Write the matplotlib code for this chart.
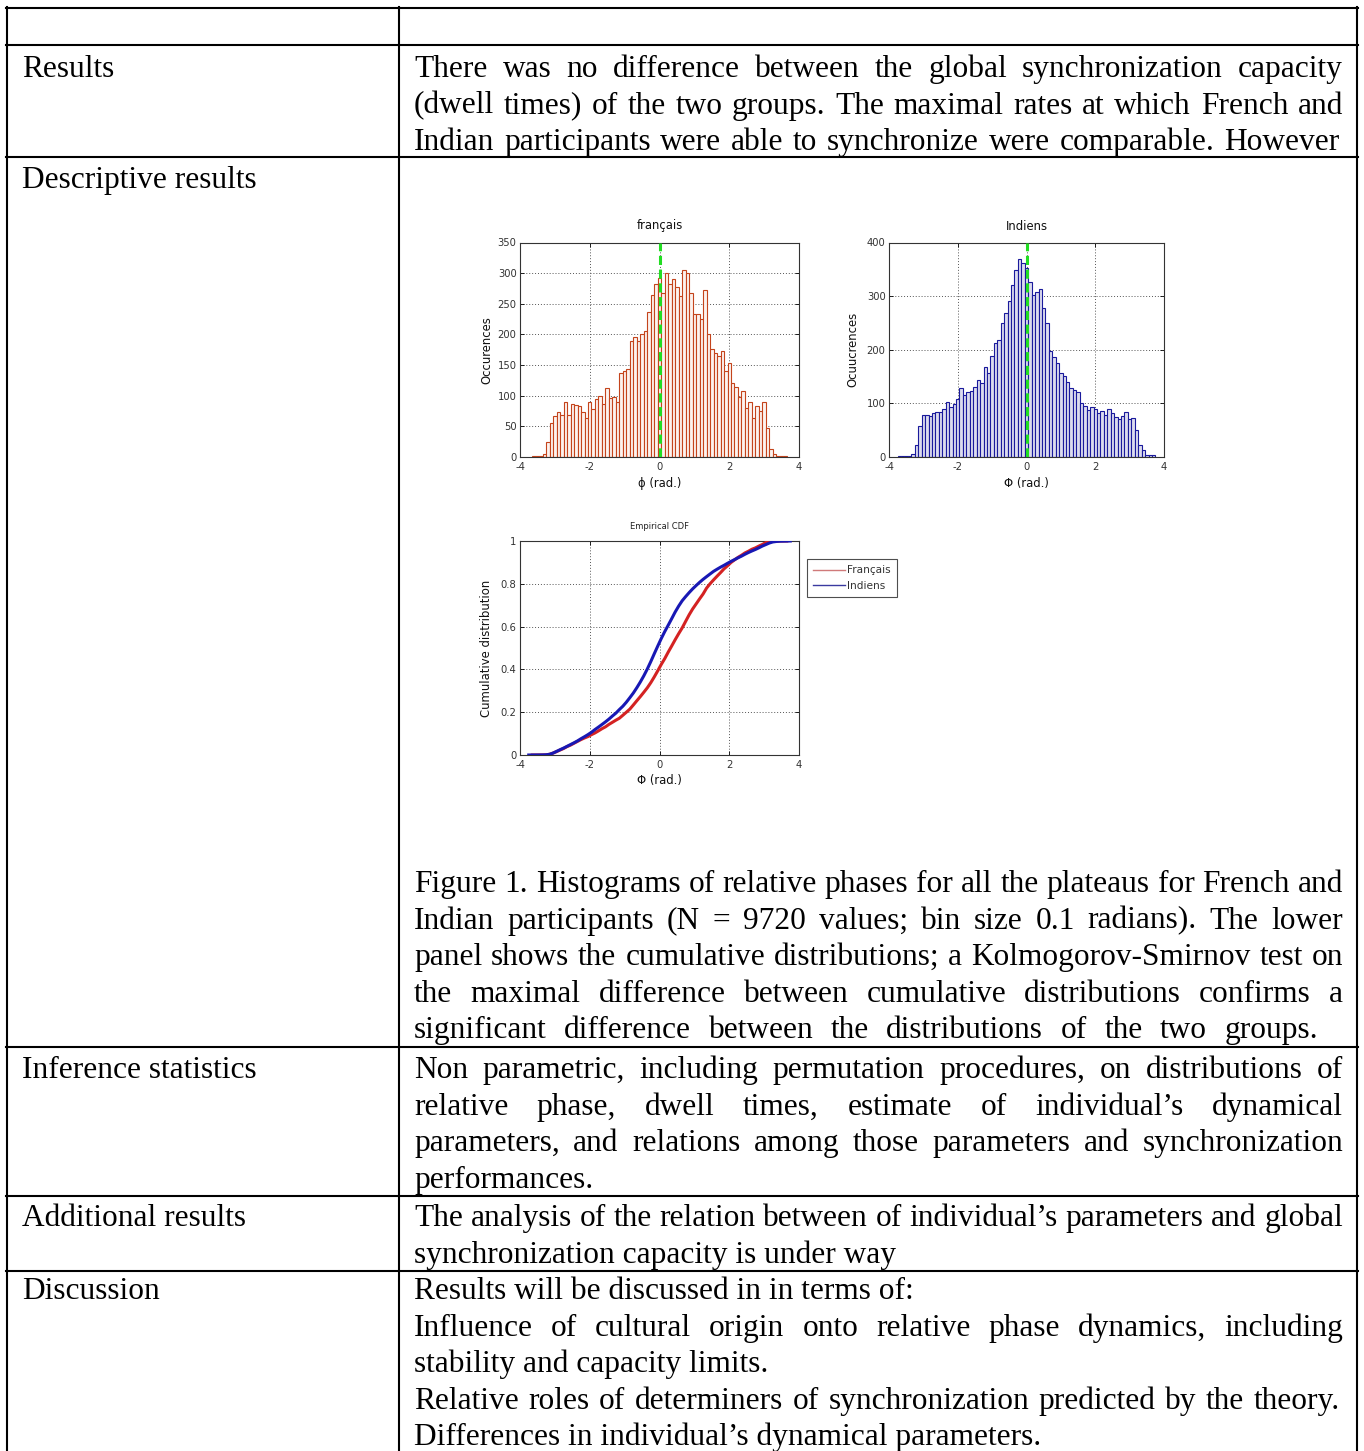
import matplotlib
matplotlib.use('Agg')
import matplotlib.pyplot as plt
import numpy as np
from matplotlib.lines import Line2D

plt.rcParams['axes.unicode_minus'] = False

# ---------------- data ----------------
french_centers = np.round(np.arange(-3.6, 3.61, 0.1), 2)
french_counts = [1, 1, 2, 5, 25, 56, 67, 73, 69, 89, 68, 87, 85, 83, 74, 64, 89, 78,
                 95, 100, 86, 113, 97, 98, 90, 137, 140, 143, 190, 195, 190, 200, 205,
                 237, 265, 283,
                 292, 268, 300, 283, 290, 278, 263, 305, 300, 268, 233, 233, 225, 272,
                 200, 177, 170, 165, 173, 140, 153, 120, 115, 98, 108, 80, 90, 63, 83,
                 75, 90, 47, 13, 5, 2, 1, 1]
indian_centers = np.round(np.arange(-3.7, 3.71, 0.1), 2)
indian_counts = [1, 1, 1, 2, 6, 23, 58, 79, 79, 76, 82, 84, 83, 89, 103, 94, 99, 109,
                 128, 116, 121, 123, 131, 144, 138, 168, 157, 189, 212, 219, 249, 268,
                 290, 320, 349, 369, 362,
                 352, 327, 302, 308, 313, 278, 249, 197, 187, 175, 157, 151, 140, 128,
                 125, 122, 101, 96, 88, 94, 90, 82, 86, 78, 89, 82, 74, 70, 77, 84, 70,
                 72, 50, 22, 13, 4, 3, 3]
bin_width = 0.1
legend_labels = ['Français', 'Indiens']

row_labels = ['Results', 'Descriptive results', 'Inference statistics',
              'Additional results', 'Discussion']

# (text, right edge for justification or None for left aligned)
results_lines = [
    ("There was no difference between the global synchronization capacity", 1343),
    ("(dwell times) of the two groups. The maximal rates at which French and", 1343),
    ("Indian participants were able to synchronize were comparable. However", 1339),
]
caption_lines = [
    ("Figure 1. Histograms of relative phases for all the plateaus for French and", 1343),
    ("Indian participants (N = 9720 values; bin size 0.1 radians). The lower", 1343),
    ("panel shows the cumulative distributions; a Kolmogorov-Smirnov test on", 1343),
    ("the maximal difference between cumulative distributions confirms a", 1343),
    ("significant difference between the distributions of the two groups.", 1318),
]
inference_lines = [
    ("Non parametric, including permutation procedures, on distributions of", 1343),
    ("relative phase, dwell times, estimate of individual\u2019s dynamical", 1343),
    ("parameters, and relations among those parameters and synchronization", 1343),
    ("performances.", None),
]
additional_lines = [
    ("The analysis of the relation between of individual\u2019s parameters and global", 1343),
    ("synchronization capacity is under way", None),
]
discussion_lines = [
    ("Results will be discussed in in terms of:", None),
    ("Influence of cultural origin onto relative phase dynamics, including", 1343),
    ("stability and capacity limits.", None),
    ("Relative roles of determiners of synchronization predicted by the theory.", 1340),
    ("Differences in individual\u2019s dynamical parameters.", None),
]

# ---------------- figure ----------------
W, H = 1364, 1451
fig = plt.figure(figsize=(W / 100, H / 100), dpi=100)
fig.patch.set_facecolor('white')
renderer = fig.canvas.get_renderer()


def fx(x):
    return x / W


def fy(y):
    return 1 - y / H


SERIF = ['Liberation Serif', 'DejaVu Serif']
TFS = 22.6
LEFT = 414


def text_line(s, x0, y, x1=None, fs=TFS):
    kw = dict(fontsize=fs, family=SERIF, color='black', va='baseline', ha='left')
    if x1 is None:
        fig.text(fx(x0), fy(y), s, **kw)
        return
    words = s.split(' ')
    while True:
        ts = [fig.text(0, 0, w, **kw) for w in words]
        widths = [t.get_window_extent(renderer).width for t in ts]
        gap = (x1 - x0 - sum(widths)) / (len(words) - 1)
        if gap >= 4.5 or kw['fontsize'] < 12:
            break
        for t in ts:
            t.remove()
        kw['fontsize'] -= 0.2
    x = x0
    for t, w in zip(ts, widths):
        t.set_position((fx(x), fy(y)))
        x += w + gap


# table lines
LW = 1.5
for y in [8, 45, 157, 1047, 1196, 1271]:
    fig.add_artist(Line2D([fx(6), fx(1358)], [fy(y), fy(y)], color='black', lw=LW))
for x in [7, 399, 1357]:
    fig.add_artist(Line2D([fx(x), fx(x)], [fy(7), fy(1452)], color='black', lw=LW))

# left column labels
for lab, y in zip(row_labels, [77, 188, 1078, 1226, 1299]):
    text_line(lab, 22, y)

LS = 36.6
for block, y0 in [(results_lines, 77), (caption_lines, 892), (inference_lines, 1078),
                  (additional_lines, 1226), (discussion_lines, 1299)]:
    for i, (s, x1) in enumerate(block):
        text_line(s, LEFT, y0 + i * LS, x1=x1)

# ---------------- charts ----------------
SANS = ['DejaVu Sans']
TICKC = '#333333'


def style_axes(ax):
    ax.set_facecolor('white')
    for sp in ax.spines.values():
        sp.set_color('#333333')
        sp.set_linewidth(0.8)
    ax.tick_params(direction='in', length=3, width=0.6, labelsize=7.2,
                   labelcolor=TICKC, top=True, right=True)
    ax.tick_params(axis='x', pad=3.5)
    ax.tick_params(axis='y', pad=2.5)
    for lab in ax.get_xticklabels() + ax.get_yticklabels():
        lab.set_family(SANS)
    ax.grid(True, linestyle=(0, (1, 2)), color='#555555', linewidth=0.7)


def add_hist(rect_px, centers, counts, ymax, ystep, edge, face, title, xlabel, ylabel,
             ylab_x):
    x0, ytop, x1, ybot = rect_px
    ax = fig.add_axes([fx(x0), fy(ybot), (x1 - x0) / W, (ybot - ytop) / H])
    ax.bar(centers, counts, width=bin_width, facecolor=face, edgecolor=edge,
           linewidth=0.8, zorder=2)
    ax.axvline(0, color='#22dd22', linestyle=(0, (3, 1.5)), linewidth=2.2, zorder=3)
    ax.set_xlim(-4, 4)
    ax.set_ylim(0, ymax)
    ax.set_xticks([-4, -2, 0, 2, 4])
    ax.set_yticks(np.arange(0, ymax + 1, ystep))
    style_axes(ax)
    ax.set_axisbelow(True)
    hpx = ybot - ytop
    ax.text(0.5, 1 + 16.5 / hpx, title, transform=ax.transAxes, ha='center',
            va='center', fontsize=8.4, family=SANS, color='#111111')
    ax.text(0.5, -26 / hpx, xlabel, transform=ax.transAxes, ha='center',
            va='center', fontsize=8.4, family=SANS, color='#111111')
    ax.text(ylab_x, 0.5, ylabel, transform=ax.transAxes, ha='center',
            va='center', rotation=90, fontsize=8.4, family=SANS, color='#111111')
    return ax


add_hist((520, 242.5, 799, 457), french_centers, french_counts, 350, 50,
         '#c4441c', '#fdf3ef', 'français', '\u03d5 (rad.)', 'Occurences',
         (487 - 520) / 279)
add_hist((889, 242.5, 1164, 457), indian_centers, indian_counts, 400, 100,
         '#1a1a9c', '#dcdcee', 'Indiens', '\u03a6 (rad.)', 'Ocuucrences',
         (853 - 889) / 275)

# CDF panel
cx0, cytop, cx1, cybot = 520, 541, 799, 755
axc = fig.add_axes([fx(cx0), fy(cybot), (cx1 - cx0) / W, (cybot - cytop) / H])
fc = np.asarray(french_counts, float)
ic = np.asarray(indian_counts, float)
fx_edges = np.concatenate([[french_centers[0] - bin_width / 2], french_centers + bin_width / 2])
ix_edges = np.concatenate([[indian_centers[0] - bin_width / 2], indian_centers + bin_width / 2])
f_cdf = np.concatenate([[0], np.cumsum(fc) / fc.sum()])
i_cdf = np.concatenate([[0], np.cumsum(ic) / ic.sum()])
axc.plot(fx_edges, f_cdf, color='#d42222', linewidth=2.2, zorder=3)
axc.plot(ix_edges, i_cdf, color='#1818b4', linewidth=2.2, zorder=4)
axc.set_xlim(-4, 4)
axc.set_ylim(0, 1)
axc.set_xticks([-4, -2, 0, 2, 4])
axc.set_yticks([0, 0.2, 0.4, 0.6, 0.8, 1])
axc.set_yticklabels(['0', '0.2', '0.4', '0.6', '0.8', '1'])
style_axes(axc)
chp = cybot - cytop
axc.text(0.5, 1 + 14 / chp, 'Empirical CDF', transform=axc.transAxes, ha='center',
         va='center', fontsize=6.0, family=SANS, color='#222222')
axc.text(0.5, -26 / chp, '\u03a6 (rad.)', transform=axc.transAxes, ha='center',
         va='center', fontsize=8.4, family=SANS, color='#111111')
axc.text((487 - 520) / 279, 0.5, 'Cumulative distribution', transform=axc.transAxes,
         ha='center', va='center', rotation=90, fontsize=8.4, family=SANS,
         color='#111111')

handles = [Line2D([], [], color='#d07a7a', lw=1.0), Line2D([], [], color='#3a3aa0', lw=1.0)]
leg = fig.legend(handles, legend_labels, loc='upper left',
                 bbox_to_anchor=(fx(807), fy(559)), bbox_transform=fig.transFigure,
                 fancybox=False, frameon=True, borderaxespad=0, borderpad=0.6,
                 handlelength=3.0, handletextpad=0.15, labelspacing=0.55,
                 prop={'family': SANS, 'size': 7.6})
leg.get_frame().set_edgecolor('#222222')
leg.get_frame().set_linewidth(0.8)
for t in leg.get_texts():
    t.set_color('#333333')

fig.savefig('out.png', dpi=100, facecolor='white')
